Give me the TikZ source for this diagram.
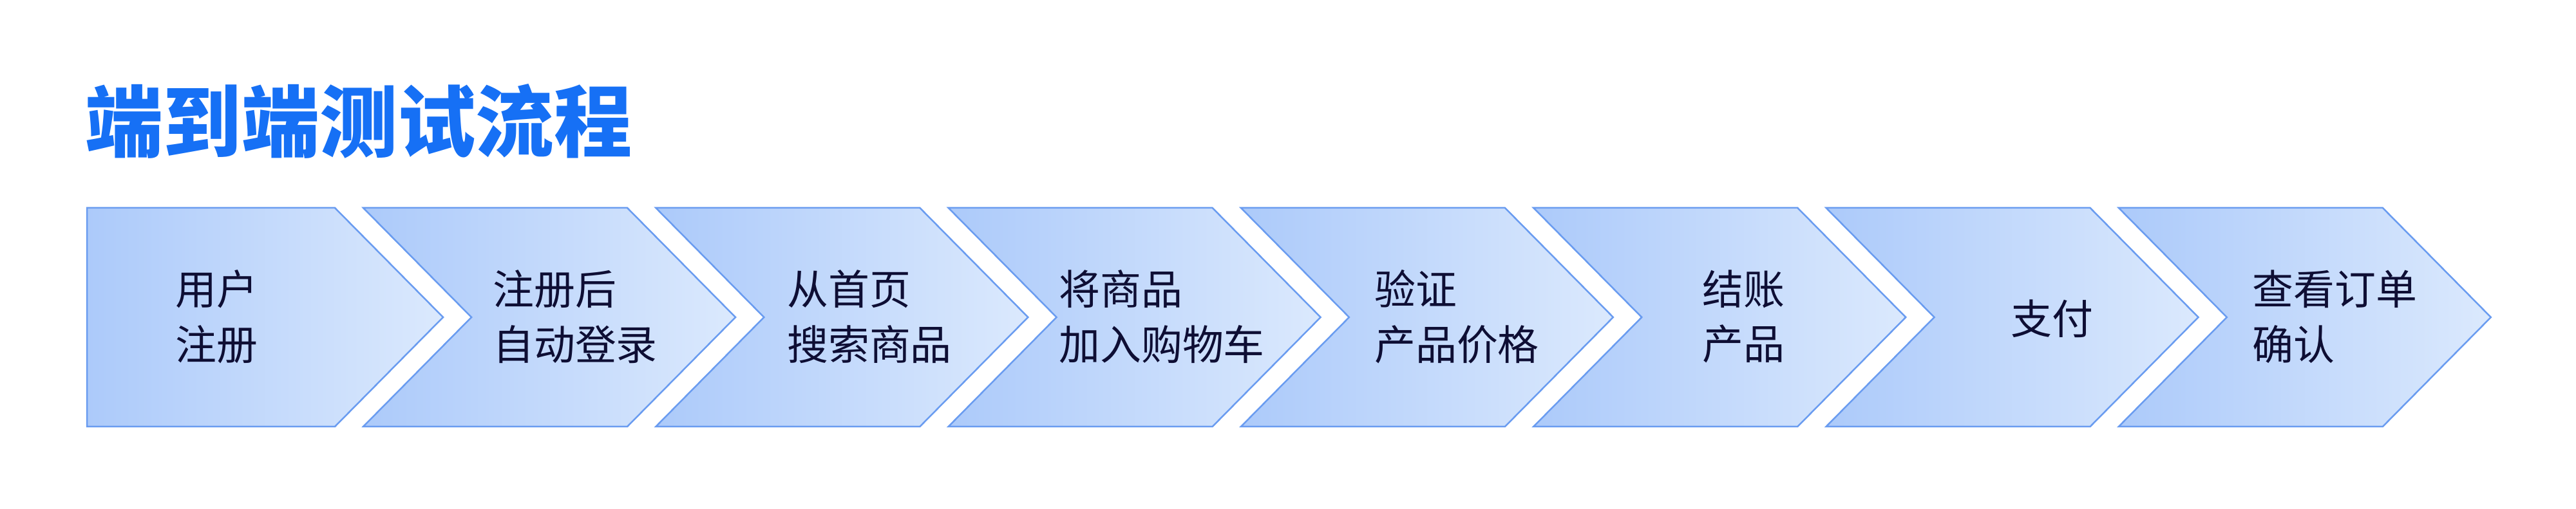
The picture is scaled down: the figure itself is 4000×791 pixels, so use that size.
\documentclass[tikz,border=0pt]{standalone}
\usepackage{fontspec}
\newfontfamily\cjk{Noto Sans CJK SC}
\definecolor{stepedge}{RGB}{106,156,240}
\definecolor{stepleft}{RGB}{172,202,250}
\definecolor{stepright}{RGB}{219,233,253}
\definecolor{titleblue}{RGB}{22,112,245}
\definecolor{labelink}{RGB}{14,14,52}
\begin{document}
\begin{tikzpicture}[x=0.1mm, y=-0.1mm,
  chevron/.style={draw=stepedge, line width=0.25mm, left color=stepleft, right color=stepright},
  steptext/.style={text=labelink, align=left, inner sep=0pt, font=\cjk\fontsize{18.2pt}{24.4pt}\selectfont}]
  \useasboundingbox (0,0) rectangle (4000,791);
  % title
  \node[anchor=west, inner sep=0pt, text=titleblue, font=\cjk\bfseries\fontsize{34.5pt}{40pt}\selectfont] (title) at (132,188) {端到端测试流程};
  % first step, flat on the left
  \coordinate (A) at (135,323);
  \coordinate (B) at (520,323);
  \coordinate (C) at (688,493);
  \coordinate (D) at (520,663);
  \coordinate (E) at (135,663);
  \draw[chevron] (A) -- (B) -- (C) -- (D) -- (E) -- cycle;
  % the other steps
  \foreach \i in {0,...,6} {
    \pgfmathsetmacro{\xl}{564+\i*454.3}
    \draw[chevron] (\xl,323) -- ++(410,0) -- ++(168,170) -- ++(-168,170) -- ++(-410,0) -- ++(168,-170) -- cycle;
  }
  \node[steptext] (s1) at (336,492) {用户\\注册};
  \node[steptext] (s2) at (893,492) {注册后\\自动登录};
  \node[steptext] (s3) at (1350,492) {从首页\\搜索商品};
  \node[steptext] (s4) at (1804,492) {将商品\\加入购物车};
  \node[steptext] (s5) at (2262,492) {验证\\产品价格};
  \node[steptext] (s6) at (2707,492) {结账\\产品};
  \node[steptext] (s7) at (3186,495) {支付};
  \node[steptext] (s8) at (3625,492) {查看订单\\确认};
\end{tikzpicture}
\end{document}
